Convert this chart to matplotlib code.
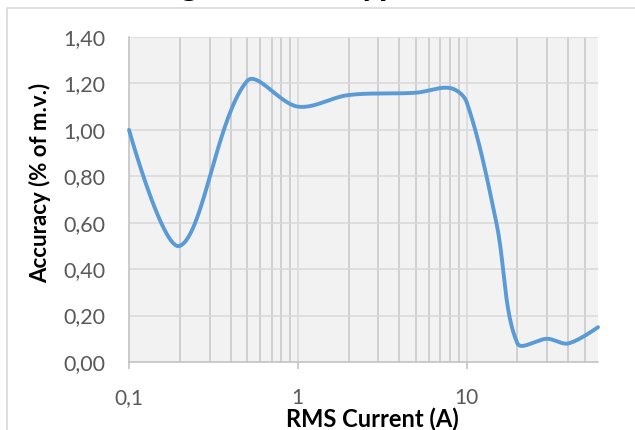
import numpy as np
import matplotlib
matplotlib.use('Agg')
import matplotlib.pyplot as plt
from matplotlib.patches import Rectangle
from matplotlib.ticker import FixedLocator, NullFormatter

# data
current  = [0.1, 0.2, 0.5, 1, 2, 5, 8, 10, 15, 20, 30, 40, 60]
accuracy = [1.00, 0.50, 1.21, 1.10, 1.15, 1.16, 1.18, 1.12, 0.60, 0.08, 0.10, 0.08, 0.15]
y_ticks  = [0.0, 0.2, 0.4, 0.6, 0.8, 1.0, 1.2, 1.4]
x_ticks  = [0.1, 1, 10]
x_labels = ['0,1', '1', '10']

title_txt = 'Voltage Burden typical'
x_lbl = 'RMS Current (A)'
y_lbl = 'Accuracy (% of m.v.)'

line_col = '#5b9bd5'
text_col = '#595959'
font = 'Lato'


def smooth(xs, ys, sx, sy, n=40, t=1 / 3):
    # smoothed line like the spreadsheet one: bezier segments whose control
    # points are scaled by the lengths of the neighbouring segments (screen units)
    P = np.column_stack([np.log10(xs) * sx, np.asarray(ys) * sy])
    m = len(P)
    cin, cout = P.copy(), P.copy()
    for i in range(1, m - 1):
        d0 = np.hypot(*(P[i] - P[i - 1]))
        d1 = np.hypot(*(P[i + 1] - P[i]))
        tan = P[i + 1] - P[i - 1]
        cin[i] = P[i] - t * d0 / (d0 + d1) * tan
        cout[i] = P[i] + t * d1 / (d0 + d1) * tan
    out = []
    for i in range(m - 1):
        u = np.linspace(0, 1, n)[:, None]
        seg = ((1 - u) ** 3 * P[i] + 3 * (1 - u) ** 2 * u * cout[i]
               + 3 * (1 - u) * u ** 2 * cin[i + 1] + u ** 3 * P[i + 1])
        out.append(seg if i == 0 else seg[1:])
    out = np.vstack(out)
    return 10 ** (out[:, 0] / sx), out[:, 1] / sy


W, H = 635, 430
fig = plt.figure(figsize=(W / 100, H / 100), dpi=100)
ax = fig.add_axes([129 / W, 1 - 362 / H, (598 - 129) / W, (362 - 37) / H])

# outer chart frame
fig.patches.append(Rectangle((7 / W, -0.1), 1.2, 1.1 - 8 / H,
                             transform=fig.transFigure, fill=False,
                             edgecolor='#d9d9d9', lw=1.2))

ax.set_facecolor('#f2f2f2')
ax.set_xscale('log')
ax.set_xlim(0.1, 60)
ax.set_ylim(0, 1.4)

# grid
minor_x = [m * 10.0 ** e for e in (-1, 0, 1) for m in range(2, 10) if m * 10.0 ** e < 60]
for v in minor_x:
    ax.axvline(v, color='#c6c6c6', lw=1.1, zorder=1)
for v in x_ticks[1:]:
    ax.axvline(v, color='#d9d9d9', lw=1.1, zorder=1)
for v in y_ticks[1:]:
    ax.axhline(v, color='#d9d9d9', lw=1.1, zorder=1)

sx, sy = (598 - 129) / np.log10(600), (362 - 37) / 1.4
xs, ys = smooth(current, accuracy, sx, sy)
ax.plot(xs, ys, color=line_col, lw=2.8, solid_capstyle='round', zorder=3, clip_on=False)

for s in ['top', 'right']:
    ax.spines[s].set_visible(False)
ax.spines['left'].set_color('#bfbfbf')
ax.spines['bottom'].set_color('#bfbfbf')
ax.spines['left'].set_linewidth(1.1)
ax.spines['bottom'].set_linewidth(1.1)

ax.xaxis.set_major_locator(FixedLocator(x_ticks))
ax.xaxis.set_minor_locator(FixedLocator([]))
ax.xaxis.set_minor_formatter(NullFormatter())
ax.set_xticklabels(x_labels)
ax.set_yticks(y_ticks)
ax.set_yticklabels([f'{v:.2f}'.replace('.', ',') for v in y_ticks])
ax.tick_params(axis='x', length=5, width=1.1, color='#bfbfbf', pad=14,
               labelsize=15, labelcolor=text_col)
ax.tick_params(axis='y', length=0, pad=17, labelsize=15.5, labelcolor=text_col)
for lab in ax.get_xticklabels() + ax.get_yticklabels():
    lab.set_fontfamily(font)

fig.text(372 / W, 1 - 427 / H, x_lbl, ha='center', va='baseline',
         fontsize=17, fontweight='bold', family=font, color='black')
fig.text(40 / W, 1 - 183 / H, y_lbl, ha='center', va='center', rotation=90,
         fontsize=16, fontweight='bold', family=font, color='black')
# title sits mostly above the picture, only the descenders show
fig.text(97 / W, 1.0105, title_txt, ha='left', va='baseline',
         fontsize=25, fontweight='bold', family=font, color='black')

fig.savefig('out.png', dpi=100, facecolor='white')
